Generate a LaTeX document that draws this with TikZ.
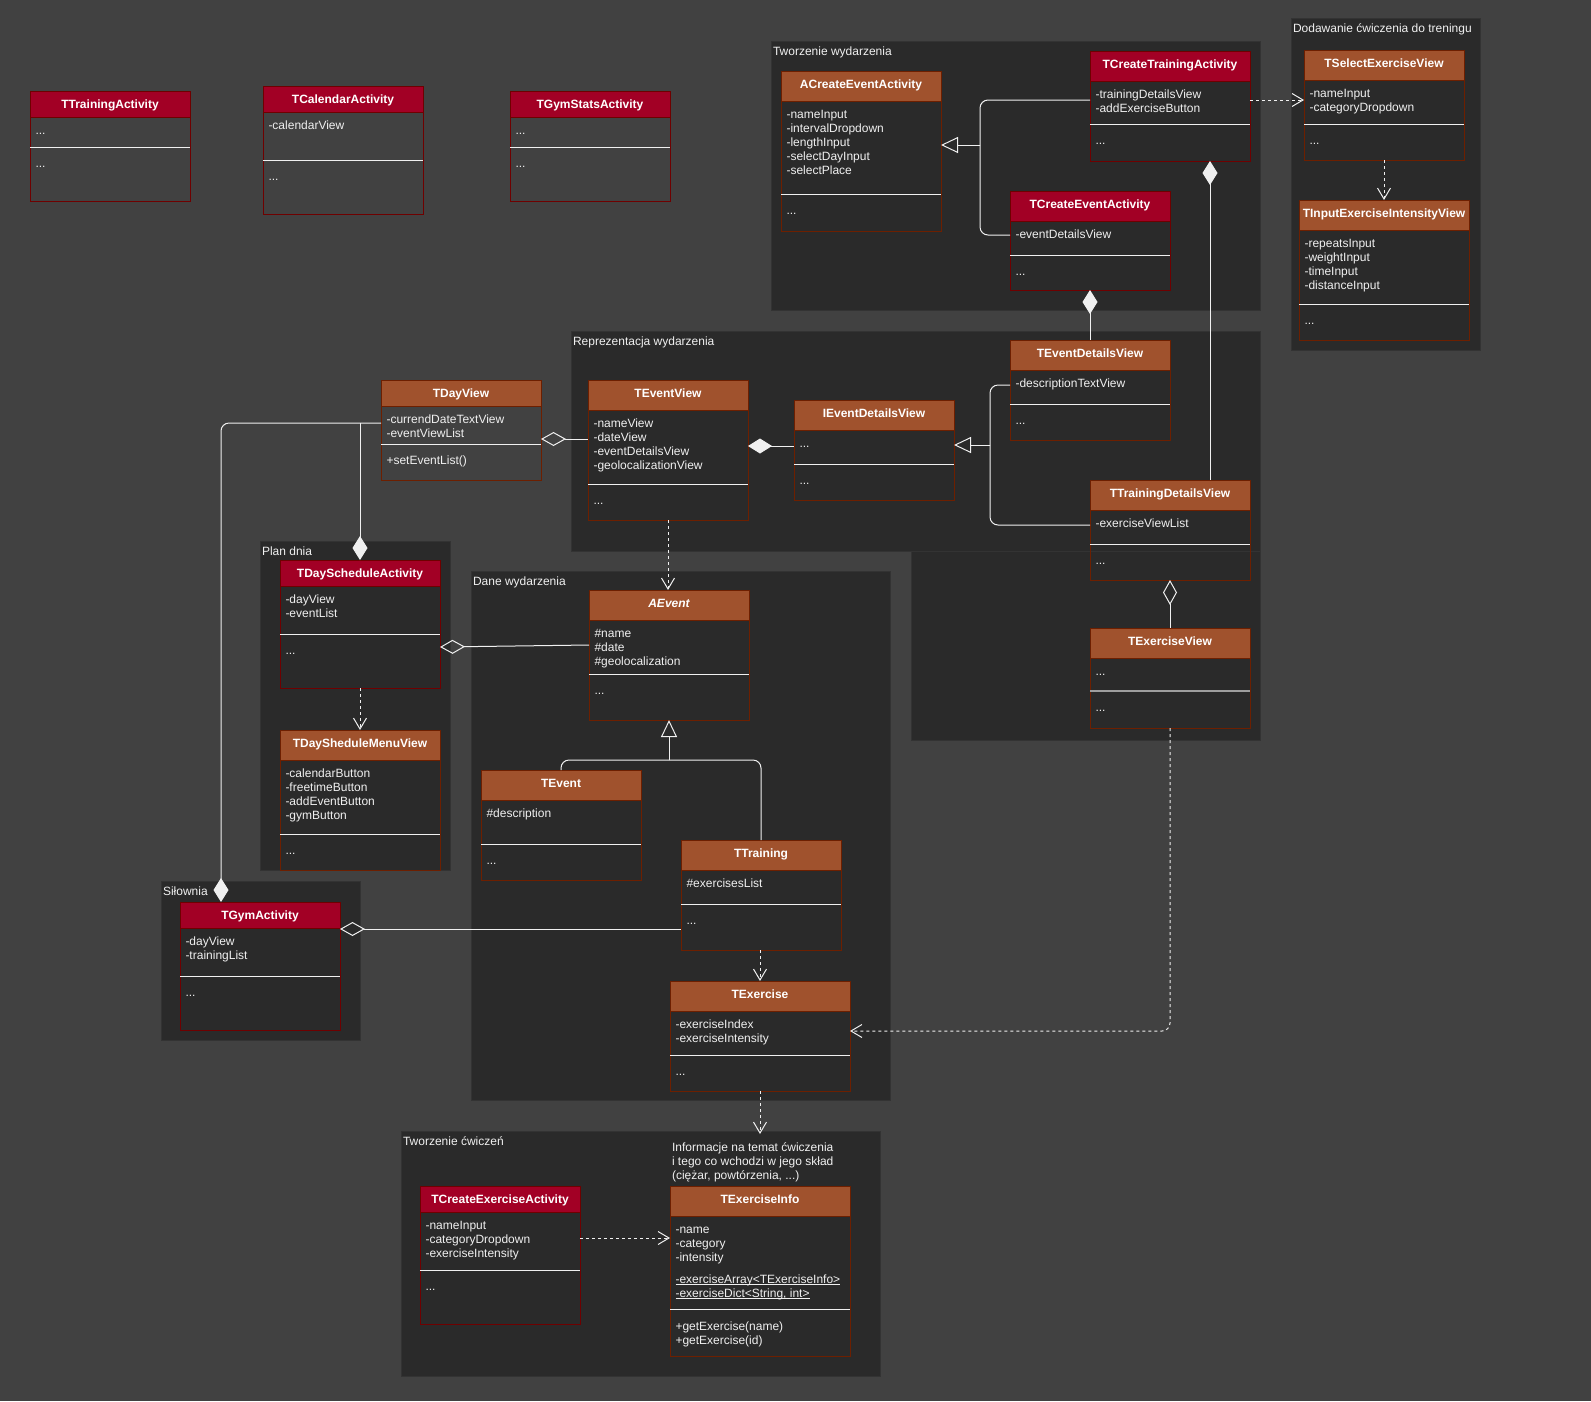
\documentclass[tikz,border=0pt]{standalone}
\usepackage{fontspec}
\setmainfont{Liberation Sans}
\usetikzlibrary{arrows.meta}

\definecolor{canvas}{HTML}{414141}
\definecolor{panel}{HTML}{2A2A2A}
\definecolor{panelline}{HTML}{333333}
\definecolor{ink}{HTML}{F0F0F0}
\definecolor{redhead}{HTML}{A20025}
\definecolor{redline}{HTML}{6F0000}
\definecolor{brownhead}{HTML}{A0522D}
\definecolor{brownline}{HTML}{6D1F00}
\definecolor{softrule}{HTML}{9E9E9E}

\newcommand\threedots{...}
% static member: text with a thin rule just below the baseline
\newcommand\staticmember[1]{\setbox0\hbox{#1}\rlap{\rule[-1.6pt]{\wd0}{0.7pt}}\box0}

\tikzset{
  every node/.style={inner sep=0pt, outer sep=0pt, text=ink,
    font=\fontsize{12}{14}\selectfont},
  panelbox/.style={anchor=north west, fill=panel, draw=panelline, line width=1pt},
  headbox/.style={anchor=north west, fill=#1head, draw=#1line, line width=1pt},
  framebox/.style={anchor=north west, draw=#1line, line width=1pt},
  titletext/.style={anchor=base, font=\fontsize{12}{14}\selectfont\bfseries, text=white},
  divrule/.style={draw=ink, line width=1pt},
  link/.style={draw=ink, line width=1pt},
  dep/.style={link, dash pattern=on 3pt off 3pt,
    -{Straight Barb[length=11pt, width=13pt]}},
  gen/.style={link, -{Triangle[open, length=17pt, width=16pt]}},
  compstart/.style={link, {Diamond[length=24pt, width=15pt, fill=ink]}-},
  compend/.style={link, -{Diamond[length=24pt, width=15pt, fill=ink]}},
  aggrstart/.style={link, {Diamond[open, length=25pt, width=14pt]}-},
}

% class box: name, x, y, width, height, header height, kind, title, divider y
\newcommand\umlclass[9]{%
  \node[headbox=#7, minimum width=#4pt, minimum height=#6pt] (#1-head) at (#2,#3) {};
  \node[framebox=#7, minimum width=#4pt, minimum height=#5pt] (#1) at (#2,#3) {};
  \node[titletext] (#1-title) at ({#2+#4/2},{#3+17.3}) {#8};
  \draw[divrule] (#1.west |- 0,#9) -- (#1.east |- 0,#9);
}

% member lines: name prefix, box left, first baseline, list
\newcommand\members[4]{%
  \foreach \mtext [count=\mi] in {#4}{%
    \node[anchor=base west] (#1-\mi) at ({#2+5.5},{#3+14*(\mi-1)}) {\mtext};
  }%
}

% package panel: name, x, y, width, height, label
\newcommand\umlgroup[6]{%
  \node[panelbox, minimum width=#4pt, minimum height=#5pt] (#1) at (#2,#3) {};
  \node[anchor=base west] (#1-label) at ({#2+2},{#3+14.5}) {#6};
}

\begin{document}
\begin{tikzpicture}[x=1pt, y=-1pt]
\useasboundingbox (0,0) rectangle (1591,1401);
\node[anchor=north west, fill=canvas, minimum width=1591pt, minimum height=1401pt] (bg) at (0,0) {};

% ---------- packages ----------
\umlgroup{gCreate}{771}{41}{489}{269}{Tworzenie wydarzenia}
\umlgroup{gAdd}{1291}{18}{189}{332}{Dodawanie ćwiczenia do treningu}
\umlgroup{gReprLow}{911}{540}{349}{200}{}
\umlgroup{gRepr}{571}{331}{689}{220}{Reprezentacja wydarzenia}
\umlgroup{gPlan}{260}{541}{190}{329}{Plan dnia}
\umlgroup{gGym}{161}{881}{199}{159}{Siłownia}
\umlgroup{gData}{471}{571}{419}{529}{Dane wydarzenia}
\umlgroup{gExer}{401}{1131}{479}{245}{Tworzenie ćwiczeń}

% ---------- top row activities ----------
\umlclass{tTrainingAct}{30}{91}{160}{110}{26}{red}{TTrainingActivity}{147}
\members{tTrainingAct-a}{30}{134.5}{\threedots}
\members{tTrainingAct-m}{30}{167.5}{\threedots}

\umlclass{tCalendar}{263}{86}{160}{128}{26}{red}{TCalendarActivity}{160}
\members{tCalendar-a}{263}{129.5}{-calendarView}
\members{tCalendar-m}{263}{180.5}{\threedots}

\umlclass{tGymStats}{510}{91}{160}{110}{26}{red}{TGymStatsActivity}{147}
\members{tGymStats-a}{510}{134.5}{\threedots}
\members{tGymStats-m}{510}{167.5}{\threedots}

% ---------- Tworzenie wydarzenia ----------
\umlclass{aCreateEvent}{781}{71}{160}{160}{30}{brown}{ACreateEventActivity}{194}
\members{aCreateEvent-a}{781}{118.5}{-nameInput,-intervalDropdown,-lengthInput,-selectDayInput,-selectPlace}
\members{aCreateEvent-m}{781}{214.5}{\threedots}

\umlclass{tCreateTraining}{1090}{51}{160}{110}{30}{red}{TCreateTrainingActivity}{124}
\members{tCreateTraining-a}{1090}{98.5}{-trainingDetailsView,-addExerciseButton}
\members{tCreateTraining-m}{1090}{144.5}{\threedots}

\umlclass{tCreateEvent}{1010}{191}{160}{99}{30}{red}{TCreateEventActivity}{255}
\members{tCreateEvent-a}{1010}{238.5}{-eventDetailsView}
\members{tCreateEvent-m}{1010}{275.5}{\threedots}

% ---------- Dodawanie cwiczenia do treningu ----------
\umlclass{tSelectExercise}{1304}{50}{160}{110}{30}{brown}{TSelectExerciseView}{124}
\members{tSelectExercise-a}{1304}{97.5}{-nameInput,-categoryDropdown}
\members{tSelectExercise-m}{1304}{144.5}{\threedots}

\umlclass{tInputIntensity}{1299}{200}{170}{140}{30}{brown}{TInputExerciseIntensityView}{304}
\members{tInputIntensity-a}{1299}{247.5}{-repeatsInput,-weightInput,-timeInput,-distanceInput}
\members{tInputIntensity-m}{1299}{324.5}{\threedots}

% ---------- Reprezentacja wydarzenia ----------
\umlclass{tDayView}{381}{380}{160}{100}{26}{brown}{TDayView}{444}
\members{tDayView-a}{381}{423.5}{-currendDateTextView,-eventViewList}
\members{tDayView-m}{381}{464.5}{+setEventList()}

\umlclass{tEventView}{588}{380}{160}{140}{30}{brown}{TEventView}{484}
\members{tEventView-a}{588}{427.5}{-nameView,-dateView,-eventDetailsView,-geolocalizationView}
\members{tEventView-m}{588}{504.5}{\threedots}

\umlclass{iEventDetails}{794}{400}{160}{100}{30}{brown}{IEventDetailsView}{464}
\members{iEventDetails-a}{794}{447.5}{\threedots}
\members{iEventDetails-m}{794}{484.5}{\threedots}

\umlclass{tEventDetails}{1010}{340}{160}{100}{30}{brown}{TEventDetailsView}{404}
\members{tEventDetails-a}{1010}{387.5}{-descriptionTextView}
\members{tEventDetails-m}{1010}{424.5}{\threedots}

\umlclass{tTrainingDetails}{1090}{480}{160}{100}{30}{brown}{TTrainingDetailsView}{544}
\members{tTrainingDetails-a}{1090}{527.5}{-exerciseViewList}
\members{tTrainingDetails-m}{1090}{564.5}{\threedots}

\umlclass{tExerciseView}{1090}{628}{160}{100}{30}{brown}{TExerciseView}{691}
\draw[draw=softrule, line width=1.7pt] (tExerciseView.west |- 0,691) -- (tExerciseView.east |- 0,691);
\members{tExerciseView-a}{1090}{675.5}{\threedots}
\members{tExerciseView-m}{1090}{711.5}{\threedots}

% ---------- Plan dnia ----------
\umlclass{tDaySchedule}{280}{560}{160}{128}{26}{red}{TDayScheduleActivity}{634}
\members{tDaySchedule-a}{280}{603.5}{-dayView,-eventList}
\members{tDaySchedule-m}{280}{654.5}{\threedots}

\umlclass{tDayMenu}{280}{730}{160}{140}{30}{brown}{TDaySheduleMenuView}{834}
\members{tDayMenu-a}{280}{777.5}{-calendarButton,-freetimeButton,-addEventButton,-gymButton}
\members{tDayMenu-m}{280}{854.5}{\threedots}

% ---------- Silownia ----------
\umlclass{tGym}{180}{902}{160}{128}{26}{red}{TGymActivity}{976}
\members{tGym-a}{180}{945.5}{-dayView,-trainingList}
\members{tGym-m}{180}{996.5}{\threedots}

% ---------- Dane wydarzenia ----------
\umlclass{aEvent}{589}{590}{160}{130}{30}{brown}{\itshape AEvent}{674}
\members{aEvent-a}{589}{637.5}{\#name,\#date,\#geolocalization}
\members{aEvent-m}{589}{694.5}{\threedots}

\umlclass{tEvent}{481}{770}{160}{110}{30}{brown}{TEvent}{844}
\members{tEvent-a}{481}{817.5}{\#description}
\members{tEvent-m}{481}{864.5}{\threedots}

\umlclass{tTraining}{681}{840}{160}{110}{30}{brown}{TTraining}{904}
\members{tTraining-a}{681}{887.5}{\#exercisesList}
\members{tTraining-m}{681}{924.5}{\threedots}

\umlclass{tExercise}{670}{981}{180}{110}{30}{brown}{TExercise}{1055}
\members{tExercise-a}{670}{1028.5}{-exerciseIndex,-exerciseIntensity}
\members{tExercise-m}{670}{1075.5}{\threedots}

% ---------- Tworzenie cwiczen ----------
\umlclass{tCreateExercise}{420}{1186}{160}{138}{26}{red}{TCreateExerciseActivity}{1270}
\members{tCreateExercise-a}{420}{1229.5}{-nameInput,-categoryDropdown,-exerciseIntensity}
\members{tCreateExercise-m}{420}{1290.5}{\threedots}

\umlclass{tExerciseInfo}{670}{1186}{180}{170}{30}{brown}{TExerciseInfo}{1309}
\members{tExerciseInfo-a}{670}{1233.5}{-name,-category,-intensity}
\node[anchor=base west] (tExerciseInfo-s1) at (675.5,1283) {\staticmember{-exerciseArray<TExerciseInfo>}};
\node[anchor=base west] (tExerciseInfo-s2) at (675.5,1297) {\staticmember{-exerciseDict<String, int>}};
\members{tExerciseInfo-m}{670}{1330.5}{+getExercise(name),+getExercise(id)}

\node[anchor=north west, minimum width=180pt, minimum height=50pt] (note) at (670,1134) {};
\node[anchor=base west] (note-1) at (672,1151) {Informacje na temat ćwiczenia};
\node[anchor=base west] (note-2) at (672,1165) {i tego co wchodzi w jego skład};
\node[anchor=base west] (note-3) at (672,1179) {(ciężar, powtórzenia, ...)};

% ---------- generalisations ----------
\coordinate (jA) at (980,145);
\draw[link, rounded corners=8pt] (tCreateTraining.west |- 0,100) -- (980,100) -- (jA);
\draw[link, rounded corners=8pt] (tCreateEvent.west |- 0,235) -- (980,235) -- (jA);
\draw[gen] (jA) -- (aCreateEvent.east |- jA);

\coordinate (jB) at (990,445);
\draw[link, rounded corners=8pt] (tEventDetails.west |- 0,385) -- (990,385) -- (jB);
\draw[link, rounded corners=8pt] (tTrainingDetails.west |- 0,525) -- (990,525) -- (jB);
\draw[gen] (jB) -- (iEventDetails.east |- jB);

\coordinate (jC) at (669,760);
\draw[link, rounded corners=8pt] (tEvent.north) -- (tEvent.north |- jC) -- (jC);
\draw[link, rounded corners=8pt] (tTraining.north) -- (tTraining.north |- jC) -- (jC);
\draw[gen] (jC) -- (aEvent.south);

% ---------- compositions ----------
\draw[compstart] (tCreateTraining.south -| 1210,0) -- (tTrainingDetails.north -| 1210,0);
\draw[compstart] (tCreateEvent.south) -- (tEventDetails.north);
\draw[compstart] (tEventView.east |- 0,446) -- (iEventDetails.west |- 0,446);
\draw[compend, rounded corners=8pt] (tDayView.west |- 0,423) -| (tGym.north -| 221,0);
\coordinate (jD) at (360,423);
\draw[compend] (jD) -- (tDaySchedule.north);

% ---------- aggregations ----------
\draw[aggrstart] (tDayView.east |- 0,439) -- (tEventView.west |- 0,439);
\draw[aggrstart] (tDaySchedule.east |- 0,647) -- (aEvent.west |- 0,645);
\draw[aggrstart] (tGym.east |- 0,929) -- (tTraining.west |- 0,929);
\draw[aggrstart] (tTrainingDetails.south) -- (tExerciseView.north);

% ---------- dependencies ----------
\draw[dep] (tEventView.south) -- (tEventView.south |- aEvent.north);
\draw[dep] (tDaySchedule.south) -- (tDayMenu.north);
\draw[dep] (tExercise.north |- tTraining.south) -- (tExercise.north);
\draw[dep] (tExercise.south) -- (note.north);
\draw[dep, rounded corners=8pt] (tExerciseView.south) |- (tExercise.east |- 0,1031);
\draw[dep] (tCreateExercise.east |- 0,1238) -- (tExerciseInfo.west |- 0,1238);
\draw[dep] (tSelectExercise.south) -- (tInputIntensity.north);
\draw[dep] (tCreateTraining.east |- 0,100) -- (tSelectExercise.west |- 0,100);
\end{tikzpicture}
\end{document}
